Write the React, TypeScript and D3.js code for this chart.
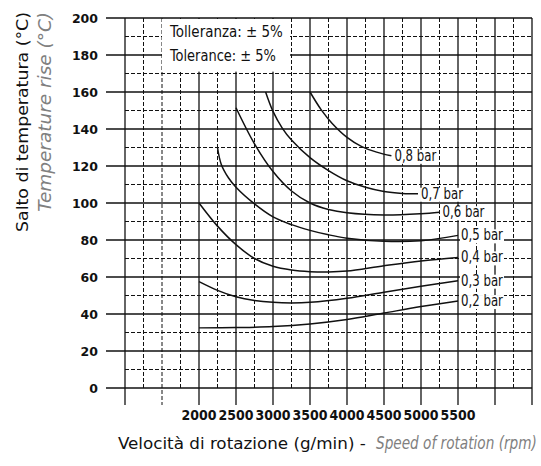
import { useLayoutEffect, useRef, useState } from 'react';
import * as d3 from 'd3';

// temperature rise curves, one pair of arrays per pressure
const rpm02 = [2000, 2500, 3000, 3500, 4000, 4500, 5000, 5500];
const t02 = [32.5, 32.7, 33.2, 34.6, 37, 40.5, 44, 47];

const rpm03 = [2000, 2250, 2500, 2750, 3000, 3250, 3500, 4000, 4500, 5000, 5500];
const t03 = [57.5, 52.8, 49.3, 47.3, 46.3, 46, 46.3, 48.5, 51.8, 55, 58];

const rpm04 = [2000, 2250, 2500, 2750, 3000, 3250, 3500, 3750, 4000, 4500, 5000, 5500];
const t04 = [100, 87.5, 77.5, 70, 65.8, 63.8, 62.9, 62.7, 63.2, 66.1, 68.7, 70.6];

const rpm05 = [2250, 2300, 2400, 2500, 2750, 3000, 3250, 3500, 3750, 4000, 4500, 5000, 5500];
const t05 = [130, 121, 113.5, 108.5, 99.5, 92.5, 88.3, 85.2, 82.8, 81, 79.3, 79.6, 82.5];

const rpm06 = [2500, 2750, 3000, 3250, 3500, 3750, 4000, 4500, 5000, 5250];
const t06 = [151.5, 132, 117, 106.5, 100, 96.5, 94.7, 93.5, 94.2, 95];

const rpm07 = [2900, 3000, 3125, 3250, 3500, 3750, 4000, 4250, 4500, 4750, 4960];
const t07 = [160, 149.5, 140.5, 134, 124.5, 117.5, 112, 108.5, 106.2, 105.2, 105];

const rpm08 = [3500, 3650, 3800, 4000, 4200, 4400, 4600];
const t08 = [160, 150.5, 143, 135.5, 130.5, 127.5, 125.5];

const pressures = ['0,2 bar', '0,3 bar', '0,4 bar', '0,5 bar', '0,6 bar', '0,7 bar', '0,8 bar'];
const rpmSets = [rpm02, rpm03, rpm04, rpm05, rpm06, rpm07, rpm08];
const tSets = [t02, t03, t04, t05, t06, t07, t08];

const xTickLabels = [2000, 2500, 3000, 3500, 4000, 4500, 5000, 5500];
const yTicks = [0, 20, 40, 60, 80, 100, 120, 140, 160, 180, 200];

const W = 541;
const H = 466;
const narrow = "'Liberation Sans Narrow', 'DejaVu Sans Condensed', 'Roboto', sans-serif";
const boldFont = "'DejaVu Sans', 'Liberation Sans', sans-serif";

// squeezes a text horizontally so it fills the given width (condensed look)
function FitText({ x, y, width, rotate = 0, anchor = 'start', children, ...rest }: any) {
  const ref = useRef<SVGTextElement>(null);
  const [k, setK] = useState(1);
  useLayoutEffect(() => {
    const n = ref.current ? ref.current.getComputedTextLength() : 0;
    if (n > 0) setK(width / n);
  }, [width, children]);
  return (
    <text
      ref={ref}
      textAnchor={anchor}
      transform={`translate(${x},${y}) rotate(${rotate}) scale(${k},1)`}
      {...rest}
    >
      {children}
    </text>
  );
}

export default function App() {
  const x = d3.scaleLinear().domain([1000, 6500]).range([125, 532]);
  const y = d3.scaleLinear().domain([0, 200]).range([388, 18]);

  const line = d3
    .line<[number, number]>()
    .x((d) => x(d[0]))
    .y((d) => y(d[1]))
    .curve(d3.curveCatmullRom.alpha(0.5));

  const minorY = d3.range(10, 200, 20);
  const allX = d3.range(1000, 6501, 250);
  const isSolidX = (v: number) => v === 1000 || (v >= 2000 && v % 500 === 0);
  const isLongX = (v: number) => v % 500 === 0;

  return (
    <svg width={W} height={H} style={{ position: 'absolute', left: 0, top: 0, background: '#fff' }}>
      {/* grid: dashed minor lines */}
      <g stroke="#111" strokeWidth={1} strokeDasharray="4,2" fill="none">
        {minorY.map((v) => (
          <line key={'my' + v} x1={x(1000)} x2={x(6500)} y1={y(v)} y2={y(v)} />
        ))}
        {allX
          .filter((v) => !isSolidX(v))
          .map((v) => (
            <line key={'mx' + v} x1={x(v)} x2={x(v)} y1={y(200)} y2={isLongX(v) ? 405 : y(0)} />
          ))}
      </g>
      {/* grid: solid lines */}
      <g stroke="#111" strokeWidth={1.3} fill="none">
        {yTicks.map((v) => (
          <line key={'y' + v} x1={106} x2={x(6500)} y1={y(v)} y2={y(v)} />
        ))}
        {allX.filter(isSolidX).map((v) => (
          <line key={'x' + v} x1={x(v)} x2={x(v)} y1={y(200)} y2={405} />
        ))}
      </g>

      {/* tolerance box */}
      <rect x={x(1500)} y={y(200) + 1} width={x(3230) - x(1500)} height={y(171) - y(200) - 1} fill="#fff" />
      <g fontFamily={narrow} fontSize={16} fill="#111">
        <FitText x={170} y={37} width={113}>
          Tolleranza: ± 5%
        </FitText>
        <FitText x={170} y={61} width={106}>
          Tolerance: ± 5%
        </FitText>
      </g>

      {/* curves */}
      <g fill="none" stroke="#111" strokeWidth={1.5}>
        {rpmSets.map((r, i) => (
          <path key={pressures[i]} d={line(r.map((v, j) => [v, tSets[i][j]] as [number, number])) || ''} />
        ))}
      </g>

      {/* curve labels */}
      <g fontFamily={narrow} fontSize={15} fill="#111">
        {rpmSets.map((r, i) => {
          const lx = x(r[r.length - 1]) + 3;
          const ly = y(tSets[i][tSets[i].length - 1]) + 5;
          return (
            <g key={'l' + i}>
              <rect x={lx - 1} y={ly - 11} width={44} height={14} fill="#fff" />
              <FitText x={lx} y={ly} width={42}>
                {pressures[i]}
              </FitText>
            </g>
          );
        })}
      </g>

      {/* y tick labels */}
      <g fontFamily={boldFont} fontWeight="bold" fontSize={12.5} fill="#111" textAnchor="end">
        {yTicks.map((v) => (
          <text key={'yt' + v} x={98} y={y(v) + 4.5}>
            {v}
          </text>
        ))}
      </g>

      {/* x tick labels */}
      <g fontFamily={boldFont} fontWeight="bold" fontSize={13.5} fill="#111">
        {xTickLabels.map((v) => (
          <FitText key={'xt' + v} x={x(v)} y={420} width={35} anchor="middle">
            {v}
          </FitText>
        ))}
      </g>

      {/* axis titles */}
      <g fontFamily={narrow} fontSize={16}>
        <FitText x={118} y={449} width={248} fill="#111">
          Velocità di rotazione (g/min) -
        </FitText>
        <FitText x={376} y={449} width={161} fill="#808080" fontStyle="italic" fontSize={17.5}>
          Speed of rotation (rpm)
        </FitText>
        <FitText x={28} y={12} width={220} rotate={-90} anchor="end" fill="#111">
          Salto di temperatura (°C)
        </FitText>
        <FitText x={51} y={12} width={200} rotate={-90} anchor="end" fill="#808080" fontStyle="italic" fontSize={17}>
          Temperature rise (°C)
        </FitText>
      </g>
    </svg>
  );
}
